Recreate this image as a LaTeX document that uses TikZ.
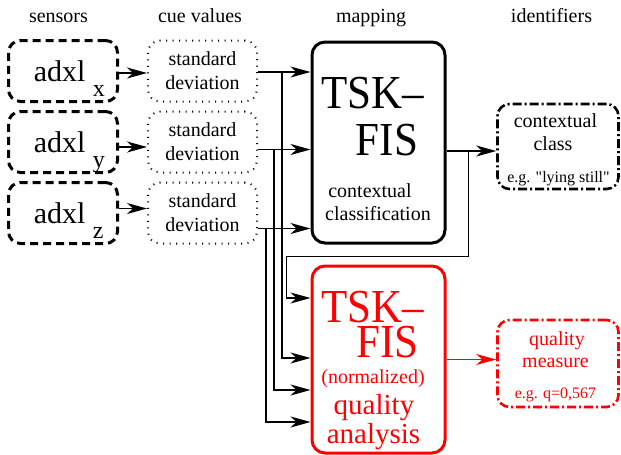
\documentclass[tikz,border=0pt]{standalone}
\usepackage{fontspec}
\setmainfont{Liberation Serif}[Ligatures=TeXOff]
\usepackage{graphicx}
\usetikzlibrary{arrows.meta}
\usetikzlibrary{positioning}

\newcommand{\tall}[1]{\scalebox{1}[1.1]{#1}}
\newcommand{\pedice}[1]{\raisebox{-15pt}{\fontsize{24}{24}\selectfont #1}}

\begin{document}
\begin{tikzpicture}[-{Stealth[length=20pt, width=11pt, inset=6pt]}, x=1pt, y=1pt, line width=1.6pt, node distance=71pt]
%====Definizione stili blocchi===============================================================
	\tikzstyle{sensor}=[draw, line width=3pt, dash pattern=on 8pt off 5pt, rounded corners=12pt, minimum width=109pt, minimum height=61pt]
	\tikzstyle{cue}=[draw, line width=2pt, dash pattern=on 1pt off 5.5pt, rounded corners=12pt, minimum width=109pt, minimum height=61pt, align=center, font=\fontsize{20}{24}\selectfont]
	\tikzstyle{fis}=[draw, line width=3pt, rounded corners=13pt, minimum width=133pt]
	\tikzstyle{ident}=[draw, line width=2.6pt, dash pattern=on 9pt off 3pt on 2pt off 3pt, rounded corners=12pt, minimum width=121pt]
%====Definizione stili testi===============================================================
	\tikzstyle{txt}=[anchor=base, inner sep=0pt, font=\fontsize{20}{24}\selectfont]
	\tikzstyle{small}=[txt, font=\fontsize{16}{16}\selectfont]
	\tikzstyle{big}=[txt, font=\fontsize{43}{43}\selectfont]
	\tikzstyle{mid}=[txt, font=\fontsize{29}{29}\selectfont]
	\tikzstyle{adxl}=[anchor=base west, inner sep=0pt, font=\fontsize{30}{30}\selectfont]

	\useasboundingbox (0,0) rectangle (621,-455);
%====Intestazioni colonne===============================================================
	\node[txt] (hsens) at (58.5,-23)  {sensors};
	\node[txt] (hcue)  at (200,-23)   {cue values};
	\node[txt] (hmap)  at (371,-23)   {mapping};
	\node[txt] (hid)   at (551.5,-23) {identifiers};
%====Sensori e valori cue===============================================================
	\node[sensor] 	(sx) at (63,-71)						{};
	\node[sensor] 	(sy) [below of=sx]					{};
	\node[sensor] 	(sz) [below of=sy]					{};
	\node[adxl]		(sxl) at ([shift={(-30pt,-10pt)}]sx.center)	{adxl\ \pedice{x}};
	\node[adxl]		(syl) at ([shift={(-30pt,-10pt)}]sy.center)	{adxl\ \pedice{y}};
	\node[adxl]		(szl) at ([shift={(-30pt,-10pt)}]sz.center)	{adxl\ \pedice{z}};
	\node[cue]		(cx) [right of=sx, node distance=139.5pt]	{standard\\deviation};
	\node[cue]		(cy) [right of=sy, node distance=139.5pt]	{standard\\deviation};
	\node[cue]		(cz) [right of=sz, node distance=139.5pt]	{standard\\deviation};
%====Blocchi TSK-FIS===============================================================
	\node[fis, minimum height=201pt] 		(tskc) at (378.5,-142.5)	{};
	\node[fis, red, minimum height=187pt]	(tskq) at (378.5,-359.5)	{};
	\node[big] (tskc1) at (373,-108)   {\tall{TSK–}};
	\node[big] (tskc2) at (387,-155)   {\tall{FIS}};
	\node[txt] (tskc3) at (370,-197)   {contextual};
	\node[txt] (tskc4) at (378,-220)   {classification};
	\node[big, red] (tskq1) at (373,-322)   {\tall{TSK–}};
	\node[big, red] (tskq2) at (387.5,-357) {\tall{FIS}};
	\node[txt, red] (tskq3) at (373,-383)   {(normalized)};
	\node[mid, red] (tskq4) at (374,-414)   {quality};
	\node[mid, red] (tskq5) at (373.5,-443) {analysis};
%====Identificatori===============================================================
	\node[ident, minimum height=85pt] 		(cls) at (558,-146.5)	{};
	\node[ident, red, minimum height=87pt]	(qm)  at (558,-363.5)	{};
	\node[txt]   (cls1) at (555.5,-127) {contextual};
	\node[txt]   (cls2) at (553,-150)   {class};
	\node[small] (cls3) at (558.5,-182) {e.g. "lying still"};
	\node[txt, red]   (qm1) at (557,-345)   {quality};
	\node[txt, red]   (qm2) at (555.5,-367) {measure};
	\node[small, red] (qm3) at (555.5,-398) {e.g. q=0,567};
%====Collegamenti===============================================================
	\draw ([yshift=-2pt]sx.east) -- ([yshift=-2pt]cx.west);
	\draw ([yshift=-5pt]sy.east) -- ([yshift=-5pt]cy.west);
	\draw ([yshift=4.5pt]sz.east) -- ([yshift=4.5pt]cz.west);
	\draw ([yshift=-1pt]cx.east)   -- ([yshift=-1pt]cx.east -| tskc.west);
	\draw ([yshift=-7.5pt]cy.east)  -- ([yshift=-7.5pt]cy.east -| tskc.west);
	\draw ([yshift=-15.5pt]cz.east) -- ([yshift=-15.5pt]cz.east -| tskc.west);
	\draw ([yshift=-1pt]cx.east) ++(24pt,0)   |- ([yshift=1.5pt]tskq.west);
	\draw ([yshift=-7.5pt]cy.east) ++(16pt,0)  |- ([yshift=-30.5pt]tskq.west);
	\draw ([yshift=-15.5pt]cz.east) ++(8pt,0)  |- ([yshift=-62.5pt]tskq.west);
	\draw ([yshift=-8.5pt]tskc.east) -- ([yshift=-8.5pt]tskc.east -| cls.west);
	\draw ([yshift=-8.5pt]tskc.east) ++(22pt,0) |- ([shift={(-24pt,-12pt)}]tskc.south west) |- ([yshift=61.5pt]tskq.west);
	\draw[red] (tskq.east) -- (tskq.east -| qm.west);
\end{tikzpicture}
\end{document}
